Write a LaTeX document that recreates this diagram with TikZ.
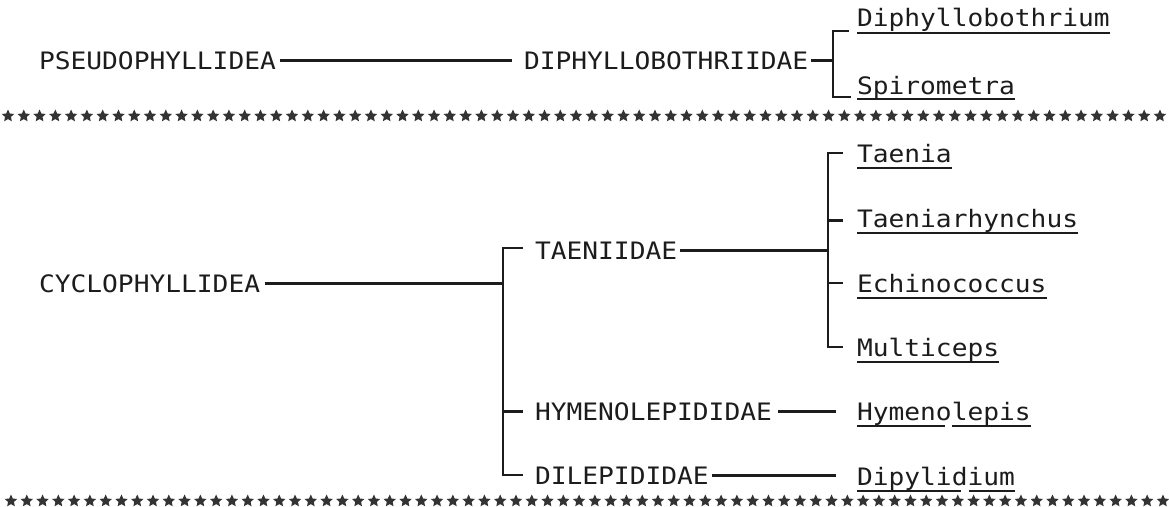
\documentclass[tikz,border=0pt]{standalone}
\usepackage{fontspec}
\usetikzlibrary{shapes.geometric}
\newfontfamily\tw[FakeStretch=1.093]{DejaVu Sans Mono}
\definecolor{ink}{HTML}{1C1C1C}
\definecolor{starink}{HTML}{333333}
\tikzset{
  lbl/.style={anchor=base west, inner sep=0pt, outer sep=0pt, text=ink,
              font=\tw\fontsize{24}{24}\selectfont},
  conn/.style={draw=ink, line width=2.6pt},
  uline/.style={draw=ink, line width=1.8pt},
  starnode/.style={star, star points=5, star point ratio=2.1, minimum size=13pt,
                   inner sep=0pt, fill=starink, draw=none}
}
\begin{document}
\begin{tikzpicture}[x=1pt,y=-1pt]
\useasboundingbox[fill=white] (0,0) rectangle (1169,506);

% ---------- row 1 ----------
\node[lbl] (pseudo) at (39,69) {PSEUDOPHYLLIDEA};
\node[lbl] (diph)   at (524,69) {DIPHYLLOBOTHRIIDAE};
\node[lbl] (gdiph)  at (857,27) {Diphyllobothrium};
\node[lbl] (gspir)  at (857,94) {Spirometra};
\coordinate (b1t) at (833,31);
\coordinate (b1b) at (833,97);

\draw[conn] ([xshift=4pt]pseudo.east) -- ([xshift=-12pt]diph.west |- pseudo.east);
\draw[conn] ([xshift=3pt]diph.east) -- (diph.east -| b1t);
\draw[conn] ([xshift=16pt]b1t) -- (b1t) -- (b1b) -- ([xshift=18pt]b1b);
\draw[uline] ([yshift=-6pt]gdiph.base west) -- ([yshift=-6pt]gdiph.base east);
\draw[uline] ([yshift=-5pt]gspir.base west) -- ([yshift=-5pt]gspir.base east);

% ---------- star rows ----------
\foreach \i in {0,...,73} {
  \node[starnode] (sa\i) at ({8+\i*15.78},116) {};
  \node[starnode] (sb\i) at ({11+\i*15.78},501) {};
}

% ---------- row 2 ----------
\node[lbl] (cyclo) at (39,292) {CYCLOPHYLLIDEA};
\node[lbl] (taen)  at (535,259) {TAENIIDAE};
\node[lbl] (hymf)  at (535,420) {HYMENOLEPIDIDAE};
\node[lbl] (dilf)  at (535,484) {DILEPIDIDAE};

\node[lbl] (g1) at (857,162) {Taenia};
\node[lbl] (g2) at (857,227) {Taeniarhynchus};
\node[lbl] (g3) at (857,292) {Echinococcus};
\node[lbl] (g4) at (857,356) {Multiceps};
\node[lbl] (g5) at (857,420) {Hymenolepis};
\node[lbl] (g6) at (857,485) {Dipylidium};

\coordinate (b2t) at (503,248);
\coordinate (b2b) at (503,475);
\coordinate (b3t) at (828,153);
\coordinate (b3b) at (828,347);

% big bracket
\draw[conn] ([xshift=5pt]cyclo.east) -- (cyclo.east -| b2t);
\draw[conn] ([xshift=20pt]b2t) -- (b2t) -- (b2b) -- ([xshift=20pt]b2b);
\draw[conn] (hymf.west -| b2t) -- ([xshift=-12pt]hymf.west);

% family connectors
\draw[conn] ([xshift=3pt]taen.east) -- (taen.east -| b3t);
\draw[conn] ([xshift=6pt]hymf.east) -- ([xshift=-21pt]g5.west |- hymf.east);
\draw[conn] ([xshift=3pt]dilf.east) -- ([xshift=-21pt]g6.west |- dilf.east);

% Taeniidae bracket
\draw[conn] ([xshift=15pt]b3t) -- (b3t) -- (b3b) -- ([xshift=15pt]b3b);
\draw[conn] (g2.west -| b3t) -- ([xshift=-14pt]g2.west);
\draw[conn] (g3.west -| b3t) -- ([xshift=-14pt]g3.west);

% underlines
\foreach \g in {g1,g2,g3,g4} {
  \draw[uline] ([yshift=-6pt]\g.base west) -- ([yshift=-6pt]\g.base east);
}
\draw[uline] ([yshift=-6pt]g5.base west) -- ([xshift=88pt,yshift=-6pt]g5.base west);
\draw[uline] ([xshift=95pt,yshift=-6pt]g5.base west) -- ([yshift=-6pt]g5.base east);
\draw[uline] ([yshift=-6pt]g6.base west) -- ([xshift=104pt,yshift=-6pt]g6.base west);
\draw[uline] ([xshift=112pt,yshift=-6pt]g6.base west) -- ([yshift=-6pt]g6.base east);
\end{tikzpicture}
\end{document}
